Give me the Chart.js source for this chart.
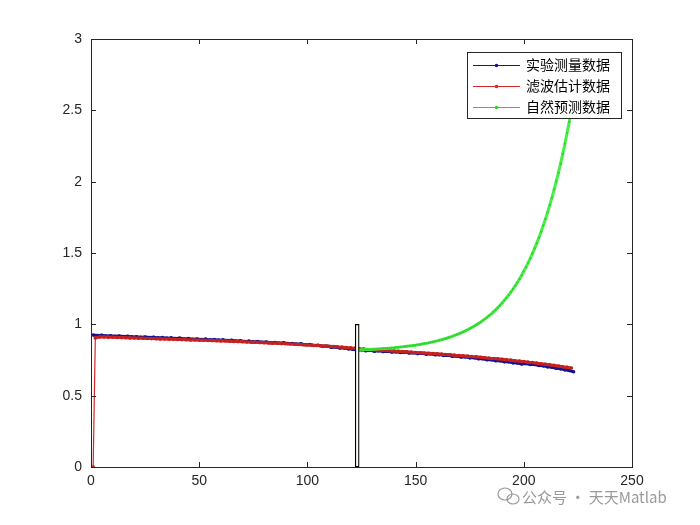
<!DOCTYPE html>
<html>
<head>
<meta charset="utf-8">
<script src="https://cdn.jsdelivr.net/npm/chart.js@4.4.1/dist/chart.umd.min.js"></script>
<style>
html,body{margin:0;padding:0;background:#fff;}
#wrap{position:relative;width:700px;height:525px;}
</style>
</head>
<body>
<div id="wrap"><canvas id="c" width="700" height="525"></canvas></div>
<script>
// ---- data ----
const seriesNames = ['实验测量数据', '滤波估计数据', '自然预测数据'];
const xTicks = [0, 50, 100, 150, 200, 250];
const yTicks = [0, 0.5, 1, 1.5, 2, 2.5, 3];
const yTickLabels = ['0', '0.5', '1', '1.5', '2', '2.5', '3'];
const xTickLabels = ['0', '50', '100', '150', '200', '250'];

// measured data: x = 1,3,5,...,223
const measStartX = 1, measStepX = 2;
const measured = [
 0.925,0.921,0.923,0.918,0.920,0.916,0.918,0.914,0.916,0.912,
 0.913,0.909,0.911,0.907,0.909,0.905,0.907,0.903,0.905,0.901,
 0.903,0.897,0.900,0.895,0.897,0.893,0.896,0.891,0.893,0.889,
 0.891,0.886,0.888,0.883,0.885,0.880,0.882,0.877,0.879,0.874,
 0.876,0.871,0.873,0.868,0.870,0.865,0.866,0.861,0.863,0.857,
 0.858,0.852,0.853,0.846,0.847,0.840,0.841,0.834,0.834,0.828,
 0.826,0.818,0.822,0.815,0.818,0.812,0.815,0.809,0.812,0.806,
 0.808,0.803,0.805,0.799,0.801,0.795,0.797,0.791,0.793,0.787,
 0.788,0.782,0.783,0.777,0.778,0.771,0.772,0.765,0.766,0.759,
 0.759,0.752,0.752,0.745,0.745,0.738,0.737,0.730,0.729,0.722,
 0.726,0.719,0.718,0.711,0.709,0.702,0.699,0.692,0.688,0.681,
 0.676,0.668
];

// filter estimate: first point at x=1, then x = 2,4,...,222
const filtFirstX = 1, filtStartX = 2, filtStepX = 2;
const filtered = [
 0.000,
 0.905,0.911,0.911,0.910,0.909,0.908,0.907,0.906,0.905,0.904,
 0.903,0.902,0.901,0.900,0.899,0.898,0.897,0.896,0.895,0.894,
 0.893,0.892,0.891,0.890,0.889,0.888,0.887,0.886,0.885,0.884,
 0.883,0.882,0.880,0.879,0.878,0.876,0.875,0.874,0.872,0.871,
 0.870,0.868,0.867,0.865,0.864,0.862,0.861,0.859,0.857,0.856,
 0.854,0.852,0.850,0.848,0.846,0.844,0.842,0.840,0.837,0.835,
 0.832,0.829,0.827,0.824,0.822,0.820,0.818,0.816,0.815,0.813,
 0.811,0.809,0.807,0.805,0.803,0.801,0.799,0.797,0.795,0.793,
 0.791,0.789,0.787,0.784,0.782,0.779,0.777,0.774,0.772,0.769,
 0.766,0.763,0.761,0.758,0.755,0.752,0.749,0.745,0.742,0.739,
 0.735,0.732,0.728,0.724,0.720,0.716,0.712,0.708,0.703,0.699,
 0.694
];

// natural prediction: x = 123,124,...,223
const predStartX = 123, predStepX = 1;
const predicted = [
 0.820,0.821,0.821,0.822,0.823,0.823,0.824,0.825,0.826,0.827,
 0.828,0.829,0.830,0.831,0.832,0.833,0.835,0.836,0.838,0.839,
 0.841,0.842,0.844,0.846,0.848,0.850,0.852,0.854,0.857,0.859,
 0.862,0.865,0.867,0.870,0.874,0.877,0.881,0.884,0.888,0.892,
 0.897,0.901,0.906,0.911,0.916,0.922,0.928,0.934,0.940,0.947,
 0.954,0.962,0.970,0.978,0.987,0.996,1.005,1.015,1.026,1.037,
 1.049,1.061,1.074,1.088,1.102,1.117,1.133,1.150,1.168,1.186,
 1.205,1.226,1.247,1.270,1.293,1.318,1.344,1.372,1.401,1.431,
 1.463,1.497,1.532,1.569,1.608,1.649,1.692,1.738,1.785,1.836,
 1.888,1.944,2.002,2.063,2.127,2.195,2.266,2.341,2.419,2.502,
 2.589
];

// split marker (bar)
const splitX = [123];
const splitY = [1];

// ---- build ----
const measPts = measured.map((v,i)=>({x: measStartX + i*measStepX, y: v}));
const filtPts = filtered.map((v,i)=>({x: i===0 ? filtFirstX : filtStartX + (i-1)*filtStepX, y: v}));
const predPts = predicted.map((v,i)=>({x: predStartX + i*predStepX, y: v}));
const barPts = splitX.map((x,i)=>({x: x, y: splitY[i]}));

const colors = {
  meas: '#14148c',
  filt: '#d42828',
  pred: '#44f044'
};

const frame = {
  id: 'frame',
  afterDatasetsDraw(chart){
    const {ctx, chartArea:a, scales} = chart;
    ctx.save();
    ctx.strokeStyle = '#262626';
    ctx.lineWidth = 1;
    ctx.strokeRect(Math.round(a.left)+0.5, Math.round(a.top)+0.5, Math.round(a.right-a.left), Math.round(a.bottom-a.top));
    const L = 5;
    ctx.beginPath();
    xTicks.forEach(t=>{
      const p = Math.round(scales.x.getPixelForValue(t))+0.5;
      ctx.moveTo(p, a.bottom); ctx.lineTo(p, a.bottom-L);
      ctx.moveTo(p, a.top); ctx.lineTo(p, a.top+L);
    });
    yTicks.forEach(t=>{
      const p = Math.round(scales.y.getPixelForValue(t))+0.5;
      ctx.moveTo(a.left, p); ctx.lineTo(a.left+L, p);
      ctx.moveTo(a.right, p); ctx.lineTo(a.right-L, p);
    });
    ctx.stroke();

    // legend
    const bx = 467.5, by = 52.5, bw = 154, bh = 66;
    ctx.fillStyle = '#fff';
    ctx.fillRect(bx, by, bw, bh);
    ctx.strokeStyle = '#262626';
    ctx.strokeRect(bx, by, bw, bh);
    const rows = [65, 86, 107];
    const cols = [colors.meas, colors.filt, '#22d822'];
    ctx.font = '14px "Noto Sans CJK SC"';
    ctx.textBaseline = 'middle';
    rows.forEach((y,i)=>{
      ctx.strokeStyle = cols[i];
      ctx.lineWidth = 1;
      ctx.beginPath(); ctx.moveTo(473, y+0.5); ctx.lineTo(520, y+0.5); ctx.stroke();
      ctx.fillStyle = cols[i];
      ctx.beginPath(); ctx.arc(496.5, y+0.5, 1.8, 0, Math.PI*2); ctx.fill();
      ctx.fillStyle = '#000';
      ctx.textAlign = 'left';
      ctx.fillText(seriesNames[i], 526, y);
    });

    // watermark
    ctx.font = '15px "Noto Sans CJK SC"';
    ctx.fillStyle = 'rgba(120,120,120,0.75)';
    ctx.textAlign = 'left';
    ctx.fillText('公众号 · 天天Matlab', 522, 497);
    ctx.strokeStyle = 'rgba(120,120,120,0.75)';
    ctx.lineWidth = 1.2;
    ctx.beginPath(); ctx.ellipse(505, 494, 7, 6, 0, 0, Math.PI*2); ctx.stroke();
    ctx.beginPath(); ctx.ellipse(513, 499, 6, 5, 0, 0, Math.PI*2); ctx.stroke();
    ctx.restore();
  }
};

new Chart(document.getElementById('c'), {
  data: {
    datasets: [
      { type:'bar', label:'split', data: barPts, backgroundColor:'#fffff2', borderColor:'#000', borderWidth:1.3, barThickness:4, borderSkipped:false, order:0 },
      { type:'line', label: seriesNames[2], data: predPts, borderColor: colors.pred, backgroundColor:'#30d030', borderWidth:3, pointRadius:1.1, pointBorderWidth:0, tension:0, order:1 },
      { type:'line', label: seriesNames[1], data: filtPts, borderColor: colors.filt, backgroundColor: '#c02020', borderWidth:3, pointRadius:1.8, pointBorderWidth:0, tension:0, order:2,
        segment:{ borderWidth: c => c.p0DataIndex === 0 ? 1.2 : 3 } },
      { type:'line', label: seriesNames[0], data: measPts, borderColor: colors.meas, backgroundColor: colors.meas, borderWidth:3, pointRadius:1.8, pointBorderWidth:0, tension:0, order:3 }
    ]
  },
  options: {
    responsive:false,
    animation:false,
    devicePixelRatio:1,
    layout:{ padding:{ left:0, top:39, right:68, bottom:0 } },
    plugins:{ legend:{display:false}, tooltip:{enabled:false} },
    scales:{
      x:{
        type:'linear', min:0, max:250, offset:false,
        afterBuildTicks: s => { s.ticks = xTicks.map(v=>({value:v})); },
        afterFit: s => { s.height = 58; },
        grid:{display:false, drawTicks:false},
        border:{display:false},
        ticks:{ color:'#262626', font:{family:'"Liberation Sans", Arial', size:14}, padding:6, maxRotation:0,
          callback: (v, i) => xTickLabels[i] }
      },
      y:{
        type:'linear', min:0, max:3,
        afterBuildTicks: s => { s.ticks = yTicks.map(v=>({value:v})); },
        afterFit: s => { s.width = 91; },
        grid:{display:false, drawTicks:false},
        border:{display:false},
        ticks:{ color:'#262626', font:{family:'"Liberation Sans", Arial', size:14}, padding:9,
          callback: (v, i) => yTickLabels[i] }
      }
    }
  },
  plugins:[frame]
});
</script>
</body>
</html>
